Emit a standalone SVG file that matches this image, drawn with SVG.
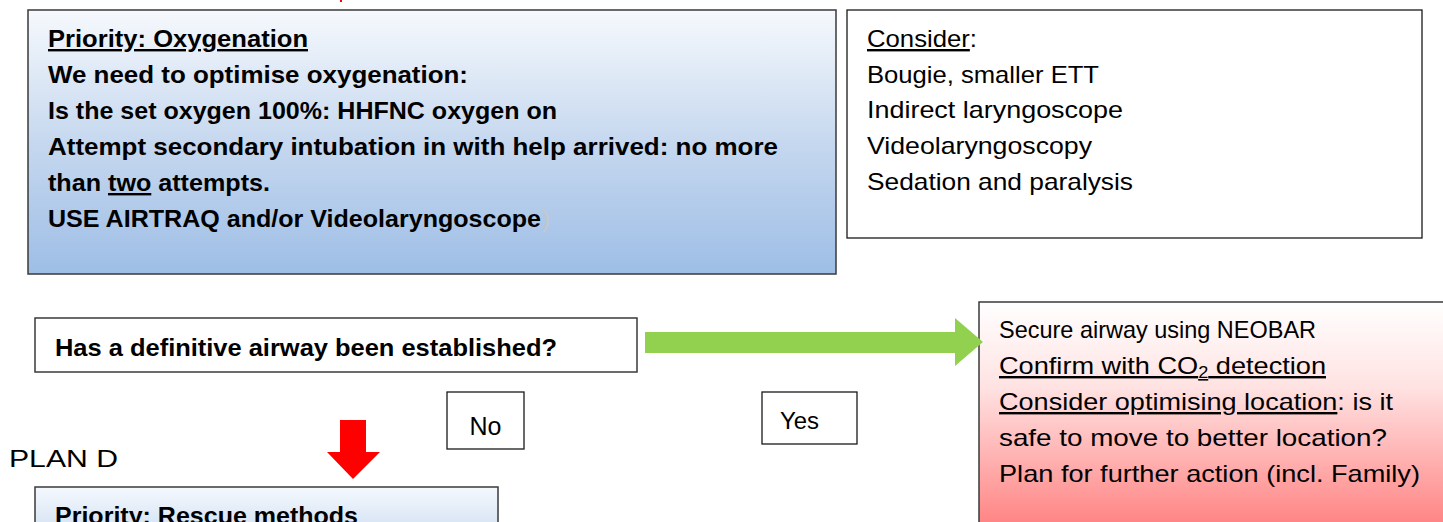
<svg xmlns="http://www.w3.org/2000/svg" width="1443" height="522" viewBox="0 0 1443 522">
<defs>
<linearGradient id="gBlue" x1="0" y1="0" x2="0" y2="1">
<stop offset="0" stop-color="#f6f9fd"/>
<stop offset="0.5" stop-color="#c6d8ef"/>
<stop offset="1" stop-color="#9ebee6"/>
</linearGradient>
<linearGradient id="gBlue2" x1="0" y1="0" x2="0" y2="1">
<stop offset="0" stop-color="#f4f8fd"/>
<stop offset="1" stop-color="#c9daf0"/>
</linearGradient>
<linearGradient id="gRed" x1="0" y1="0" x2="0" y2="1">
<stop offset="0" stop-color="#ffffff"/>
<stop offset="0.35" stop-color="#ffe3e3"/>
<stop offset="1" stop-color="#ff7878"/>
</linearGradient>
<style>
.box{stroke:#3a3a3a;stroke-width:1.5}
.plain{fill:#ffffff;stroke:#1a1a1a;stroke-width:1.3}
.t{font-family:"Liberation Sans",Arial,sans-serif;font-size:24px;fill:#000}
.b{font-weight:bold}
.u{text-decoration:underline}
</style>
</defs>

<line x1="341" y1="0" x2="341" y2="2" stroke="#ff0000" stroke-width="2"/>

<g id="node-oxygenation">
<rect class="box" x="28" y="10" width="808" height="264" fill="url(#gBlue)"/>
<text class="t b" x="48" y="47" textLength="260" lengthAdjust="spacingAndGlyphs"><tspan class="u">Priority: Oxygenation</tspan></text>
<text class="t b" x="48" y="83" textLength="420" lengthAdjust="spacingAndGlyphs">We need to optimise oxygenation:</text>
<text class="t b" x="48" y="119" textLength="509" lengthAdjust="spacingAndGlyphs">Is the set oxygen 100%: HHFNC oxygen on</text>
<text class="t b" x="48" y="155" textLength="730" lengthAdjust="spacingAndGlyphs">Attempt secondary intubation in with help arrived: no more</text>
<text class="t b" x="48" y="191" textLength="222" lengthAdjust="spacingAndGlyphs">than <tspan class="u">two</tspan> attempts.</text>
<text class="t b" x="48" y="227" textLength="493" lengthAdjust="spacingAndGlyphs">USE AIRTRAQ and/or Videolaryngoscope</text>
<text class="t" x="542" y="227" style="fill:#c8c8c8">)</text>
</g>

<g id="node-consider">
<rect class="plain" x="847" y="10" width="575" height="228"/>
<text class="t" x="867" y="47" textLength="110" lengthAdjust="spacingAndGlyphs"><tspan class="u">Consider</tspan>:</text>
<text class="t" x="867" y="83" textLength="232" lengthAdjust="spacingAndGlyphs">Bougie, smaller ETT</text>
<text class="t" x="867" y="118" textLength="256" lengthAdjust="spacingAndGlyphs">Indirect laryngoscope</text>
<text class="t" x="867" y="154" textLength="225" lengthAdjust="spacingAndGlyphs">Videolaryngoscopy</text>
<text class="t" x="867" y="190" textLength="266" lengthAdjust="spacingAndGlyphs">Sedation and paralysis</text>
</g>

<g id="node-question">
<rect class="box" x="35" y="318" width="602" height="54" fill="#ffffff"/>
<text class="t b" x="55" y="356" textLength="502" lengthAdjust="spacingAndGlyphs">Has a definitive airway been established?</text>
</g>

<g id="node-no">
<rect class="plain" x="447" y="392" width="77" height="57"/>
<text class="t" x="485.5" y="435" text-anchor="middle" style="font-size:25px">No</text>
</g>

<g id="node-yes">
<rect class="plain" x="762" y="392" width="95" height="52"/>
<text class="t" x="780" y="429" textLength="39" lengthAdjust="spacingAndGlyphs">Yes</text>
</g>

<g id="node-plan-d">
<text class="t" x="9" y="467" textLength="109" lengthAdjust="spacingAndGlyphs">PLAN D</text>
</g>

<g id="node-rescue">
<rect class="box" x="35" y="487" width="463" height="60" fill="url(#gBlue2)"/>
<text class="t b" x="55" y="524" textLength="303" lengthAdjust="spacingAndGlyphs"><tspan class="u">Priority: Rescue methods</tspan></text>
</g>

<g id="node-secure">
<rect class="box" x="979" y="302" width="470" height="240" fill="url(#gRed)"/>
<text class="t" x="999" y="338" textLength="317" lengthAdjust="spacingAndGlyphs">Secure airway using NEOBAR</text>
<text class="t" x="999" y="374" textLength="327" lengthAdjust="spacingAndGlyphs"><tspan class="u">Confirm with CO</tspan><tspan class="u" style="font-size:16px" dy="4">2</tspan><tspan class="u" dy="-4"> detection</tspan></text>
<text class="t" x="999" y="410" textLength="394" lengthAdjust="spacingAndGlyphs"><tspan class="u">Consider optimising location</tspan>: is it</text>
<text class="t" x="999" y="446" textLength="388" lengthAdjust="spacingAndGlyphs">safe to move to better location?</text>
<text class="t" x="999" y="482" textLength="421" lengthAdjust="spacingAndGlyphs">Plan for further action (incl. Family)</text>
</g>

<g id="connectors">
<polygon points="645,332 955,332 955,318 983,342 955,366 955,353 645,353" fill="#92d050"/>
<polygon points="340,420 366,420 366,452 380,452 353,479 327,452 340,452" fill="#ff0000"/>
</g>
</svg>
